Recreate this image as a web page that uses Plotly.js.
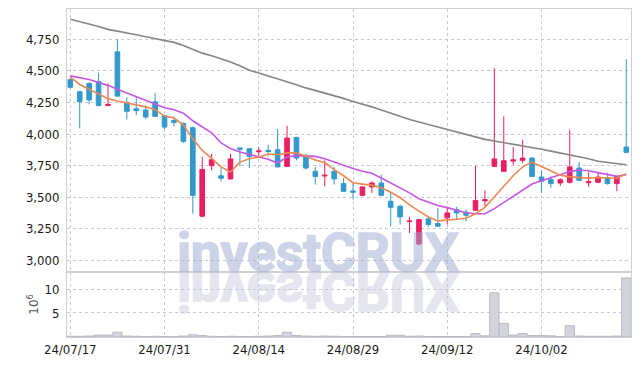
<!DOCTYPE html>
<html>
<head>
<meta charset="utf-8">
<script src="https://cdn.plot.ly/plotly-3.0.1.min.js"></script>
<style>
  html, body { margin: 0; padding: 0; background: #fff; }
  #wrap { position: relative; width: 639px; height: 366px; overflow: hidden; }
  #chart { width: 639px; height: 366px; }
  .wm { position: absolute; left: 177px; top: 226px; font-family: Roboto, "Open Sans", sans-serif; font-weight: 700;
        font-size: 54px; line-height: 54px; white-space: nowrap; pointer-events: none; letter-spacing: -0.5px; }
  #wm1 { color: #9fabd3; -webkit-text-stroke: 1.4px #9fabd3; opacity: 0.5; }
  #wm2 { color: #c0c0d7; -webkit-text-stroke: 1.4px #c0c0d7; opacity: 0.4; transform: scaleY(-1); transform-origin: 0 46px; }
</style>
</head>
<body>
<div id="wrap">
  <div id="chart"></div>
  <div class="wm" id="wm2">investCRUX</div>
  <div class="wm" id="wm1">investCRUX</div>
</div>
<script>
// Trading dates (YY/MM/DD)
const dates = [
  "24/07/17","24/07/18","24/07/19","24/07/22","24/07/23","24/07/24","24/07/25","24/07/26","24/07/29","24/07/30",
  "24/07/31","24/08/01","24/08/02","24/08/05","24/08/06","24/08/07","24/08/08","24/08/09","24/08/12","24/08/13",
  "24/08/14","24/08/16","24/08/19","24/08/20","24/08/21","24/08/22","24/08/23","24/08/26","24/08/27","24/08/28",
  "24/08/29","24/08/30","24/09/02","24/09/03","24/09/04","24/09/05","24/09/06","24/09/09","24/09/10","24/09/11",
  "24/09/12","24/09/13","24/09/19","24/09/20","24/09/23","24/09/24","24/09/25","24/09/26","24/09/27","24/09/30",
  "24/10/02","24/10/04","24/10/07","24/10/08","24/10/10","24/10/11","24/10/14","24/10/15","24/10/16","24/10/17"
];
const openP = [4430,4335,4400,4415,4225,4650,4250,4200,4190,4255,
  4145,4107,4085,4050,3350,3750,3670,3645,3890,3884,
  3860,3871,3876,3744,3973,3818,3705,3668,3705,3608,
  3550,3515,3582,3613,3468,3429,3308,3130,3329,3292,
  3337,3402,3382,3397,3472,3744,3705,3786,3792,3810,
  3660,3639,3613,3618,3731,3615,3618,3653,3608,3897];
const highP = [4440,4340,4410,4485,4400,4750,4290,4295,4225,4325,
  4150,4140,4090,4060,3820,3845,3745,3845,3892,3887,
  3897,3916,4040,4066,3978,3845,3740,3792,3740,3653,
  3613,3585,3626,3680,3534,3440,3345,3330,3345,3416,
  3416,3424,3405,3750,3555,4521,4139,3897,3955,3815,
  3713,3665,3650,4034,3779,3697,3697,3692,3670,4592];
const lowP = [4360,4045,4235,4220,4222,4295,4115,4150,4118,4135,
  4040,4060,3930,3370,3345,3713,3625,3640,3745,3730,
  3830,3823,3738,3740,3792,3720,3600,3587,3600,3545,
  3482,3510,3535,3510,3271,3284,3218,3120,3266,3265,
  3284,3324,3310,3390,3430,3740,3700,3757,3771,3660,
  3534,3575,3590,3608,3630,3582,3615,3600,3547,3850];
const closeP = [4370,4255,4270,4225,4235,4300,4180,4185,4135,4140,
  4055,4092,3942,3515,3720,3797,3650,3803,3880,3823,
  3866,3862,3740,3968,3810,3731,3665,3674,3645,3547,
  3540,3582,3613,3515,3421,3345,3312,3323,3284,3271,
  3376,3376,3358,3474,3480,3803,3789,3796,3810,3665,
  3626,3608,3639,3740,3634,3625,3660,3608,3665,3855];
// Moving averages
const ma5 = [4450,4392,4355,4315,4280,4262,4248,4232,4215,4193,
  4142,4127,4073,3962,3870,3808,3740,3700,3778,3805,
  3818,3842,3836,3851,3852,3824,3795,3775,3718,3670,
  3615,3604,3596,3575,3540,3498,3440,3390,3344,3313,
  3317,3326,3334,3370,3420,3502,3586,3670,3741,3778,
  3743,3707,3675,3661,3655,3651,3656,3654,3650,3687];
const ma10 = [4460,4447,4432,4408,4385,4355,4325,4295,4265,4235,
  4208,4192,4165,4105,4060,4010,3930,3885,3858,3838,
  3822,3800,3771,3818,3829,3826,3823,3805,3778,3752,
  3728,3705,3690,3652,3615,3575,3535,3488,3460,3435,
  3418,3400,3378,3370,3370,3410,3460,3510,3560,3605,
  3630,3653,3680,3703,3716,3710,3695,3680,3665,3678];
const ma60 = [4908,4890,4870,4850,4828,4815,4800,4785,4770,4755,
  4740,4725,4700,4668,4640,4620,4598,4570,4540,4505,
  4482,4460,4437,4415,4390,4365,4345,4325,4305,4282,
  4257,4237,4215,4190,4168,4140,4115,4092,4075,4055,
  4035,4015,3995,3975,3958,3945,3932,3920,3910,3895,
  3880,3865,3850,3838,3822,3805,3785,3775,3765,3757];
// Volume in millions of shares
const volume = [0.15,0.15,0.2,0.4,0.4,1.0,0.2,0.15,0.1,0.15,
  0.1,0.1,0.2,0.45,0.3,0.15,0.1,0.15,0.1,0.1,
  0.15,0.2,0.3,1.0,0.3,0.2,0.15,0.2,0.15,0.1,
  0.1,0.1,0.1,0.1,0.35,0.35,0.15,0.2,0.1,0.1,
  0.1,0.1,0.1,0.7,0.25,9.2,2.8,0.4,0.7,0.3,
  0.3,0.25,0.1,2.35,0.2,0.15,0.15,0.15,0.2,12.3];
const priceTicks = [3000,3250,3500,3750,4000,4250,4500,4750];
const volTicks = [5,10];
const dateTicks = [dates[0],dates[10],dates[20],dates[30],dates[40],dates[50]];

const UP = '#e91e63', DOWN = '#3399cc';
const tickFont = {family: '"DejaVu Sans Condensed", "DejaVu Sans", sans-serif', size: 13, color: '#1a1a1a'};
const gridC = '#c6c9db';
const lineC = '#cfcfd8';

const traces = [
  {type:'bar', x: dates, y: volume, xaxis:'x2', yaxis:'y2',
   marker:{color:'#d4d4dc', line:{color:'#b9b9c4', width:1}}, hoverinfo:'skip', showlegend:false},
  {type:'scatter', mode:'lines', x: dates, y: ma60, xaxis:'x', yaxis:'y',
   line:{color:'#858585', width:1.6}, hoverinfo:'skip', showlegend:false},
  {type:'scatter', mode:'lines', x: dates, y: ma10, xaxis:'x', yaxis:'y',
   line:{color:'#c855e6', width:1.6}, hoverinfo:'skip', showlegend:false},
  {type:'scatter', mode:'lines', x: dates, y: ma5, xaxis:'x', yaxis:'y',
   line:{color:'#ee8850', width:1.6}, hoverinfo:'skip', showlegend:false},
  {type:'candlestick', x: dates, open: openP, high: highP, low: lowP, close: closeP,
   xaxis:'x', yaxis:'y', whiskerwidth:0,
   increasing:{line:{color:UP, width:1}, fillcolor:UP},
   decreasing:{line:{color:DOWN, width:1}, fillcolor:DOWN},
   hoverinfo:'skip', showlegend:false}
];

const layout = {
  width: 639, height: 366,
  margin: {l: 67, r: 8, t: 9, b: 29},
  paper_bgcolor: '#fff', plot_bgcolor: '#fff',
  showlegend: false,
  bargap: 0.02,
  boxgap: 0.3,
  xaxis: {type:'category', anchor:'y', range:[-0.35, 59.5], showticklabels:false,
    tickvals: dateTicks, showgrid:true, gridcolor:gridC, griddash:'dot', gridwidth:1,
    showline:true, linecolor:lineC, mirror:true, ticks:'', rangeslider:{visible:false}, fixedrange:true},
  xaxis2: {type:'category', anchor:'y2', matches:'x', range:[-0.35, 59.5],
    tickvals: dateTicks, showgrid:true, gridcolor:gridC, griddash:'dot', gridwidth:1,
    showline:true, linecolor:lineC, mirror:true, ticks:'', tickfont: tickFont, tickangle:0, fixedrange:true},
  yaxis: {domain:[0.199, 1], range:[2911, 4989], tickvals: priceTicks, tickformat:',d',
    showgrid:true, gridcolor:gridC, griddash:'dot', zeroline:false,
    showline:true, linecolor:lineC, mirror:true, ticks:'', tickfont: tickFont, ticklabelstandoff:4, fixedrange:true},
  yaxis2: {domain:[0, 0.199], range:[0, 13.6], tickvals: volTicks,
    showgrid:true, gridcolor:gridC, griddash:'dot', zeroline:false,
    showline:true, linecolor:lineC, mirror:true, ticks:'', tickfont: tickFont, ticklabelstandoff:4,
    title:{text:'10<sup>6</sup>', font:{family:'"DejaVu Sans", sans-serif', size:12, color:'#555'}, standoff:3},
    fixedrange:true}
};

Plotly.newPlot('chart', traces, layout, {displayModeBar:false, staticPlot:true});
</script>
</body>
</html>
